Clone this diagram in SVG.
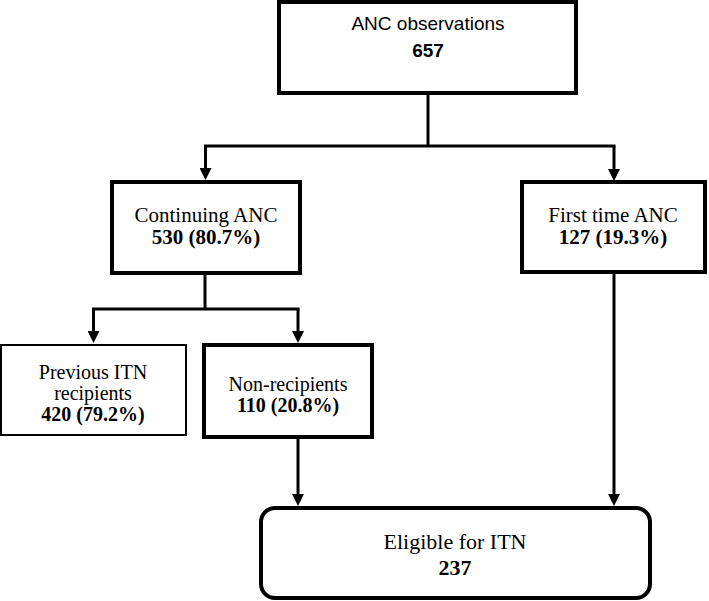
<svg xmlns="http://www.w3.org/2000/svg" width="709" height="601" viewBox="0 0 709 601">
<style>
.box{fill:#fff;stroke:#000;stroke-width:4}
.thin{fill:#fff;stroke:#000;stroke-width:2}
.sans{font-family:"Liberation Sans","Open Sans",Arial,sans-serif;font-size:19px;fill:#000;text-anchor:middle}
.serif{font-family:"Liberation Serif","Times New Roman",serif;font-size:21px;fill:#000;text-anchor:middle}
.s20{font-size:20px}
.s22{font-size:22px}
.b{font-weight:bold}
.conn{fill:none;stroke:#000;stroke-width:3}
</style>
<defs>
<marker id="arr" markerUnits="userSpaceOnUse" markerWidth="12" markerHeight="12" refX="6" refY="6" orient="auto">
<path d="M0,0 L12,6 L0,12 z" fill="#000"/>
</marker>
</defs>
<rect width="709" height="601" fill="#fff"/>
<g id="connectors">
<path class="conn" d="M428 93 V146"/>
<path class="conn" d="M204 146 H615.5"/>
<path class="conn" d="M205.5 146 V174" marker-end="url(#arr)"/>
<path class="conn" d="M614 146 V175" marker-end="url(#arr)"/>
<path class="conn" d="M205 273 V309"/>
<path class="conn" d="M92 309 H299.5"/>
<path class="conn" d="M93.5 309 V337" marker-end="url(#arr)"/>
<path class="conn" d="M298 309 V337" marker-end="url(#arr)"/>
<path class="conn" d="M298 437 V500" marker-end="url(#arr)"/>
<path class="conn" d="M614 272 V500" marker-end="url(#arr)"/>
</g>
<g id="anc-observations">
<rect class="box" x="279" y="2" width="297" height="91"/>
<text class="sans" x="428" y="30">ANC observations</text>
<text class="sans b" x="428" y="57">657</text>
</g>
<g id="continuing-anc">
<rect class="box" x="112" y="182" width="188" height="91"/>
<text class="serif" x="206" y="222">Continuing ANC</text>
<text class="serif b" x="206" y="244">530 (80.7%)</text>
</g>
<g id="first-time-anc">
<rect class="box" x="522" y="182" width="183" height="90"/>
<text class="serif" x="613" y="222">First time ANC</text>
<text class="serif b" x="613" y="244">127 (19.3%)</text>
</g>
<g id="previous-itn">
<rect class="thin" x="1" y="345" width="185" height="90"/>
<text class="serif s20" x="93" y="379">Previous ITN</text>
<text class="serif s20" x="93" y="400">recipients</text>
<text class="serif s20 b" x="93" y="421">420 (79.2%)</text>
</g>
<g id="non-recipients">
<rect class="box" x="204" y="345" width="168" height="92"/>
<text class="serif s20" x="288" y="391">Non-recipients</text>
<text class="serif s20 b" x="288" y="412">110 (20.8%)</text>
</g>
<g id="eligible">
<rect class="box" x="261" y="508" width="389" height="90" rx="14"/>
<text class="serif s22" x="455" y="549">Eligible for ITN</text>
<text class="serif s22 b" x="455" y="575">237</text>
</g>
</svg>
